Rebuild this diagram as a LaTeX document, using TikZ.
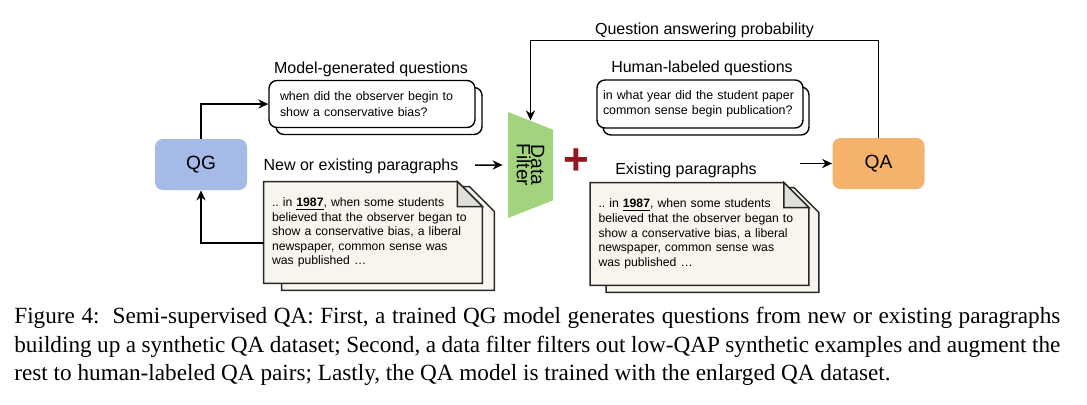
\documentclass[tikz,border=0pt]{standalone}
\usepackage{fontspec}
\setmainfont{Liberation Sans}
\newfontfamily\capfont{Liberation Serif}
\usetikzlibrary{shapes.geometric,backgrounds,arrows.meta}

\definecolor{qgblue}{RGB}{166,186,232}
\definecolor{qaorange}{RGB}{245,178,108}
\definecolor{filtergreen}{RGB}{162,212,126}
\definecolor{docfill}{RGB}{247,245,237}
\definecolor{foldgray}{RGB}{224,223,216}
\definecolor{docline}{RGB}{40,40,40}
\definecolor{plusred}{RGB}{150,22,30}

\frenchspacing
\hyphenpenalty=10000
\begin{document}
\begin{tikzpicture}[x=0.5pt, y=-0.5pt,
    block/.style={rectangle, rounded corners=4pt, minimum width=46pt, minimum height=25.5pt, font=\fontsize{9.6}{11}\selectfont},
    filter/.style={trapezium, trapezium angle=61, trapezium stretches body=true, minimum width=53pt, minimum height=22.5pt, inner sep=1pt, fill=filtergreen, rotate=-90, align=center, font=\fontsize{9.6}{7.2}\selectfont},
    qbox/.style={rectangle, rounded corners=4pt, draw, line width=0.7pt, fill=white, minimum width=103pt, minimum height=23.5pt, text width=92pt, inner xsep=5.5pt, align=left, font=\fontsize{6.2}{7.6}\selectfont},
    para/.style={rectangle, minimum width=109pt, minimum height=50.5pt, text width=101pt, inner xsep=4pt, align=left, font=\fontsize{6.1}{7.3}\selectfont},
    lbl/.style={inner sep=1pt, font=\fontsize{8}{9.6}\selectfont},
    sheet/.style={fill=docfill, draw=docline, line width=0.7pt},
    fold/.style={fill=foldgray, draw=docline, line width=0.7pt},
    arrow/.style={->, >={Stealth[length=5pt,width=4.6pt]}, line width=0.75pt}
]
    \useasboundingbox (0,0) rectangle (1087,404);

    % models and filter
    \node[block, fill=qgblue] (qg) at (201,164.5) {QG};
    \node[block, fill=qaorange] (qa) at (878.5,163.5) {QA};
    \node[filter] (filter) at (530.5,165) {Data\\Filter};
    \node[text=plusred, font=\fontsize{22}{22}\selectfont\bfseries] (plus) at (576,162) {+};

    % questions
    \node[lbl] (mgq) at (371,69) {Model-generated questions};
    \node[qbox] (qlback) at (379,111) {};
    \node[qbox] (qlft) at (372,104) {when did the observer begin to\\show a conservative bias?};
    \node[lbl] (hlq) at (702,68) {Human-labeled questions};
    \node[qbox, minimum height=24pt] (qrback) at (706,111) {};
    \node[qbox, minimum height=24pt, text width=97pt, inner xsep=3pt] (qrgt) at (700,104) {in what year did the student paper\\common sense begin publication?};

    % paragraphs
    \node[lbl] (nep) at (361,166) {New or existing paragraphs};
    \node[para] (plft) at (373,232.5) {.. in \textbf{\underline{1987}}, when some students\\believed that the observer began to\\show a conservative bias, a liberal\\newspaper, common sense was\\was published …};
    \node[lbl] (ep) at (686,170) {Existing paragraphs};
    \node[para, minimum height=51pt] (prgt) at (699.5,234) {.. in \textbf{\underline{1987}}, when some students\\believed that the observer began to\\show a conservative bias, a liberal\\newspaper, common sense was\\was published …};

    \begin{scope}[on background layer]
        \filldraw[sheet] ([xshift=9pt,yshift=-3.5pt]plft.south west) -- ([xshift=9pt,yshift=-2.5pt]plft.north west) -- ([xshift=-6.5pt,yshift=-2.5pt]plft.north east) -- ([xshift=6pt,yshift=-15pt]plft.north east) -- ([xshift=6pt,yshift=-3.5pt]plft.south east) -- cycle;
        \filldraw[sheet] (plft.south west) -- (plft.north west) -- ([xshift=-12.5pt]plft.north east) -- ([yshift=-12.5pt]plft.north east) -- (plft.south east) -- cycle;
        \filldraw[fold] ([xshift=-12.5pt]plft.north east) -- ([xshift=-12.5pt,yshift=-12.5pt]plft.north east) -- ([yshift=-12.5pt]plft.north east) -- cycle;
        \filldraw[sheet] ([xshift=8pt,yshift=-3.5pt]prgt.south west) -- ([xshift=8pt,yshift=-2.5pt]prgt.north west) -- ([xshift=-7.5pt,yshift=-2.5pt]prgt.north east) -- ([xshift=5pt,yshift=-15pt]prgt.north east) -- ([xshift=5pt,yshift=-3.5pt]prgt.south east) -- cycle;
        \filldraw[sheet] (prgt.south west) -- (prgt.north west) -- ([xshift=-12.5pt]prgt.north east) -- ([yshift=-12.5pt]prgt.north east) -- (prgt.south east) -- cycle;
        \filldraw[fold] ([xshift=-12.5pt]prgt.north east) -- ([xshift=-12.5pt,yshift=-12.5pt]prgt.north east) -- ([yshift=-12.5pt]prgt.north east) -- cycle;
    \end{scope}

    % connectors
    \coordinate (fin) at (475,165);
    \coordinate (qain) at (800,163.5);
    \draw[arrow] (qg.north) |- (qlft.west);
    \draw[arrow] ([yshift=-5.25pt]plft.west) -| (qg.south);
    \draw[arrow, shorten >=2.5pt] (fin) -- (filter.south);
    \draw[arrow] (qain) -- (qa.west);
    \draw[arrow] (qa.north) -- ++(0,-97) -| node[lbl, pos=0.25, above] (qap) {Question answering probability} (filter);

    % caption
    \node[anchor=north west, text width=523pt, inner sep=0pt, align=justify, font=\capfont\fontsize{11.6}{14.3}\selectfont] (caption) at (14,307) {Figure 4:\ \ Semi-supervised QA: First, a trained QG model generates questions from new or existing paragraphs\linebreak building up a synthetic QA dataset; Second, a data filter filters out low-QAP synthetic examples and augment the\linebreak rest to human-labeled QA pairs; Lastly, the QA model is trained with the enlarged QA dataset.};
\end{tikzpicture}
\end{document}
